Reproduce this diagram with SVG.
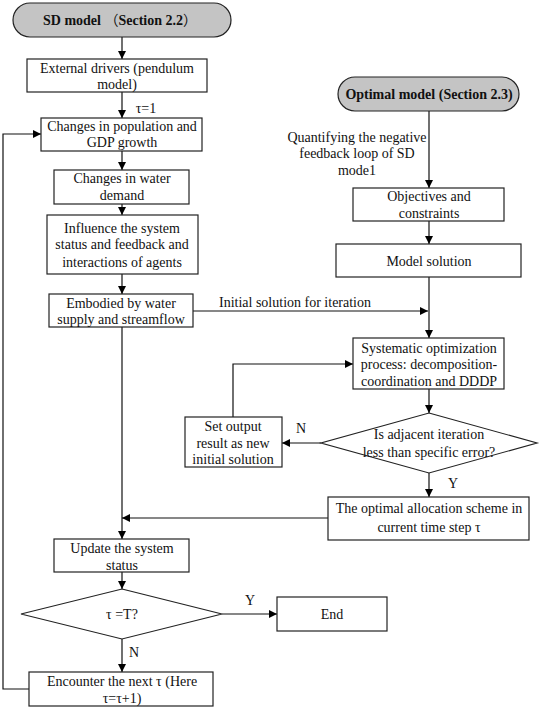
<svg xmlns="http://www.w3.org/2000/svg" width="541" height="707" viewBox="0 0 541 707">
<defs>
<marker id="ah" viewBox="0 0 10 10" refX="10" refY="5" markerWidth="8" markerHeight="8" markerUnits="userSpaceOnUse" orient="auto">
<path d="M0,0 L10,5 L0,10 z" fill="#000"/>
</marker>
<style>
.box{fill:#fff;stroke:#222;stroke-width:1.2}
.pill{fill:#c4c4c4;stroke:#222;stroke-width:1.2}
.ln{fill:none;stroke:#111;stroke-width:1.2}
.arr{fill:none;stroke:#111;stroke-width:1.2;marker-end:url(#ah)}
text{font-family:"Liberation Serif","Times New Roman",serif;font-size:14px;fill:#111;text-anchor:middle}
.b{font-weight:bold}
</style>
</defs>
<rect width="541" height="707" fill="#fff"/>
<g id="connectors">
<line class="arr" x1="122" y1="37" x2="122" y2="59"/>
<line class="arr" x1="122" y1="92" x2="122" y2="118"/>
<line class="arr" x1="122" y1="151" x2="122" y2="170"/>
<line class="arr" x1="122" y1="204" x2="122" y2="215"/>
<line class="arr" x1="122" y1="274" x2="122" y2="294"/>
<line class="arr" x1="122" y1="327" x2="122" y2="539"/>
<line class="arr" x1="193" y1="311" x2="428" y2="311"/>
<line class="arr" x1="429" y1="111" x2="429" y2="188"/>
<line class="arr" x1="429" y1="221" x2="429" y2="244"/>
<line class="arr" x1="429" y1="277" x2="429" y2="338"/>
<line class="arr" x1="429" y1="389" x2="429" y2="413"/>
<line class="arr" x1="321" y1="443" x2="282" y2="443"/>
<polyline class="arr" points="233,417 233,364 353,364"/>
<line class="arr" x1="429" y1="473" x2="429" y2="497"/>
<line class="arr" x1="328" y1="518" x2="122" y2="518"/>
<line class="arr" x1="122" y1="572" x2="122" y2="589"/>
<line class="arr" x1="222" y1="614" x2="277" y2="614"/>
<line class="arr" x1="122" y1="639" x2="122" y2="672"/>
<polyline class="arr" points="29,689 3,689 3,134 41,134"/>
<text x="146" y="113">τ=1</text>
<text x="295" y="307">Initial solution for iteration</text>
<text x="357" y="142">Quantifying the negative</text>
<text x="357" y="158">feedback loop of SD</text>
<text x="357" y="175">mode1</text>
<text x="301" y="433">N</text>
<text x="453" y="488">Y</text>
<text x="250" y="605">Y</text>
<text x="134" y="657">N</text>
</g>
<g id="sd-model">
<rect class="pill" x="13" y="3" width="218" height="34" rx="17"/>
<text class="b" x="120" y="25">SD model <tspan font-family="'Noto Sans CJK SC',sans-serif" font-weight="normal">（</tspan>Section 2.2<tspan font-family="'Noto Sans CJK SC',sans-serif" font-weight="normal">）</tspan></text>
</g>
<g id="external-drivers">
<rect class="box" x="27" y="59" width="180" height="33"/>
<text x="117" y="73">External drivers (pendulum</text>
<text x="117" y="89">model)</text>
</g>
<g id="population-gdp">
<rect class="box" x="41" y="118" width="161" height="33"/>
<text x="122" y="131">Changes in population and</text>
<text x="122" y="147">GDP growth</text>
</g>
<g id="water-demand">
<rect class="box" x="54" y="170" width="135" height="34"/>
<text x="122" y="183">Changes in water</text>
<text x="122" y="200">demand</text>
</g>
<g id="influence">
<rect class="box" x="47" y="215" width="151" height="59"/>
<text x="122" y="233">Influence the system</text>
<text x="122" y="249">status and feedback and</text>
<text x="122" y="267">interactions of agents</text>
</g>
<g id="embodied">
<rect class="box" x="49" y="294" width="144" height="33"/>
<text x="121" y="308">Embodied by water</text>
<text x="121" y="324">supply and streamflow</text>
</g>
<g id="optimal-model">
<rect class="pill" x="338" y="77" width="181" height="34" rx="17"/>
<text class="b" x="429" y="99">Optimal model (Section 2.3)</text>
</g>
<g id="objectives">
<rect class="box" x="353" y="188" width="151" height="33"/>
<text x="429" y="201">Objectives and</text>
<text x="429" y="218">constraints</text>
</g>
<g id="model-solution">
<rect class="box" x="336" y="244" width="185" height="33"/>
<text x="429" y="266">Model solution</text>
</g>
<g id="systematic">
<rect class="box" x="353" y="338" width="151" height="51"/>
<text x="429" y="353">Systematic optimization</text>
<text x="429" y="369">process: decomposition-</text>
<text x="429" y="386">coordination and DDDP</text>
</g>
<g id="iteration-check">
<polygon class="box" points="429,413 537,443 429,473 321,443"/>
<text x="429" y="439">Is adjacent iteration</text>
<text x="429" y="457">less than specific error?</text>
</g>
<g id="set-output">
<rect class="box" x="185" y="417" width="97" height="50"/>
<text x="233" y="431">Set output</text>
<text x="233" y="448">result as new</text>
<text x="233" y="464">initial solution</text>
</g>
<g id="optimal-allocation">
<rect class="box" x="328" y="497" width="201" height="43"/>
<text x="429" y="513">The optimal allocation scheme in</text>
<text x="429" y="532">current time step  τ</text>
</g>
<g id="update-status">
<rect class="box" x="54" y="539" width="135" height="33"/>
<text x="122" y="553">Update the system</text>
<text x="122" y="570">status</text>
</g>
<g id="tau-check">
<polygon class="box" points="122,589 222,614 122,639 21,614"/>
<text x="122" y="619">τ =T?</text>
</g>
<g id="end">
<rect class="box" x="277" y="597" width="110" height="34"/>
<text x="332" y="619">End</text>
</g>
<g id="encounter-next">
<rect class="box" x="29" y="672" width="184" height="34"/>
<text x="122" y="686">Encounter the next τ (Here</text>
<text x="122" y="703">τ=τ+1)</text>
</g>
</svg>
